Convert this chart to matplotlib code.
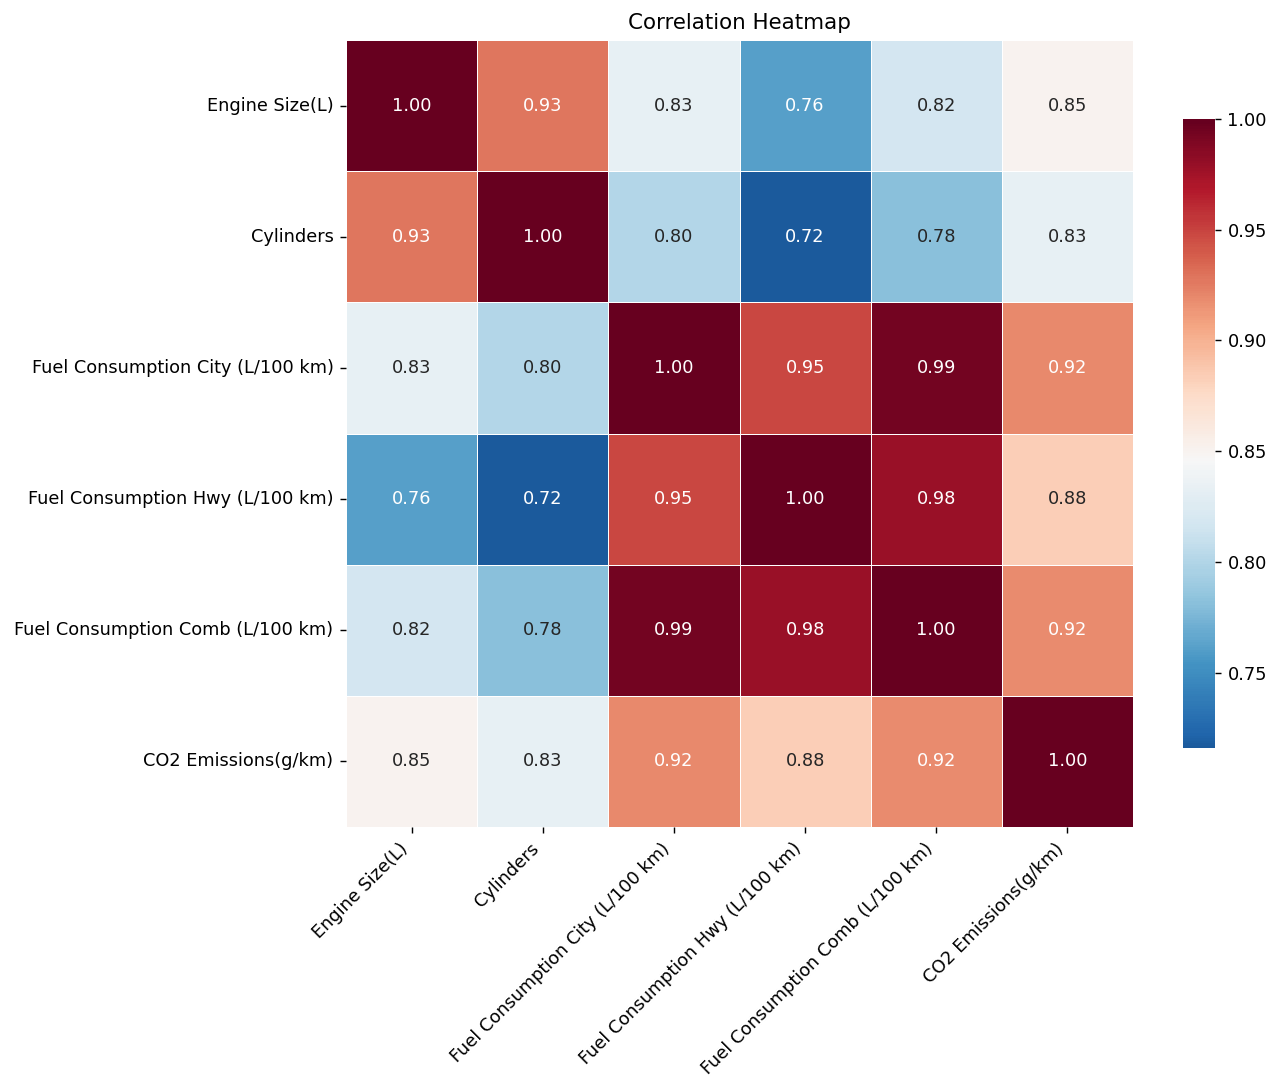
import matplotlib
matplotlib.use("Agg")
import matplotlib.pyplot as plt
from matplotlib.colors import LinearSegmentedColormap
import seaborn as sns
import numpy as np

labels = ["Engine Size(L)", "Cylinders", "Fuel Consumption City (L/100 km)",
          "Fuel Consumption Hwy (L/100 km)", "Fuel Consumption Comb (L/100 km)",
          "CO2 Emissions(g/km)"]
corr = np.array([
    [1.00, 0.928, 0.833, 0.761, 0.818, 0.851],
    [0.928, 1.00, 0.801, 0.716, 0.781, 0.833],
    [0.833, 0.801, 1.00, 0.948, 0.994, 0.920],
    [0.761, 0.716, 0.948, 1.00, 0.978, 0.884],
    [0.818, 0.781, 0.994, 0.978, 1.00, 0.918],
    [0.851, 0.833, 0.920, 0.884, 0.918, 1.00],
])

base = plt.get_cmap("RdBu_r")
cmap = LinearSegmentedColormap.from_list("trunc", base(np.linspace(0.08, 1.0, 256)))

fig = plt.figure(figsize=(10, 8.53125), dpi=128)
ax = fig.add_axes([346/1280, 1 - 827/1092, 787/1280, 787/1092])
cax = fig.add_axes([1183/1280, 1 - 748/1092, 32/1280, 629/1092])
sns.heatmap(corr, annot=True, fmt=".2f", cmap=cmap, linewidths=0.5, linecolor="white",
            xticklabels=labels, yticklabels=labels, ax=ax, cbar_ax=cax,
            annot_kws={"size": 10})
ax.set_title("Correlation Heatmap", fontsize=12)
ax.tick_params(labelsize=10)
plt.setp(ax.get_xticklabels(), rotation=45, ha="right")
plt.setp(ax.get_yticklabels(), rotation=0)
cax.tick_params(labelsize=10)
fig.savefig("out.png", dpi=128)
